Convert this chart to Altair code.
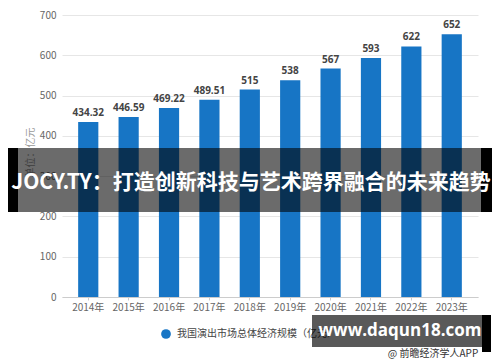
import altair as alt
import pandas as pd

years = ["2014年", "2015年", "2016年", "2017年", "2018年", "2019年", "2020年", "2021年", "2022年", "2023年"]
values = [434.32, 446.59, 469.22, 489.51, 515, 538, 567, 593, 622, 652]
value_labels = ["434.32", "446.59", "469.22", "489.51", "515", "538", "567", "593", "622", "652"]
y_ticks = [0, 100, 200, 300, 400, 500, 600, 700]
series_name = "我国演出市场总体经济规模（亿元）"
y_title = "单位：亿元"
banner_text = "JOCY.TY：打造创新科技与艺术跨界融合的未来趋势"
watermark_text = "www.daqun18.com"
source_text = "@ 前瞻经济学人APP"

BAR = "#1775c5"
CJK = "Noto Sans CJK SC"

df = pd.DataFrame({"year": years, "value": values, "label": value_labels})

base = alt.Chart(df).encode(
    x=alt.X(
        "year:N", sort=years, title=None,
        scale=alt.Scale(paddingInner=0.5, paddingOuter=0.4),
        axis=alt.Axis(labelAngle=0, labelFont=CJK, labelFontSize=10, labelColor="#666",
                      domainColor="#cccccc", tickColor="#cccccc", tickSize=3,
                      labelPadding=2, grid=False),
    ),
    y=alt.Y(
        "value:Q", scale=alt.Scale(domain=[0, 700]),
        axis=alt.Axis(values=y_ticks, title=y_title, titleFont=CJK, titleFontSize=10,
                      titleColor="#999", titleFontWeight="normal", titleAngle=-90,
                      titleX=-32, titleY=137, titleAlign="center", titleBaseline="middle",
                      domain=False, ticks=False, labelPadding=6, gridColor="#e6e6e6",
                      labelColor="#666", labelFont=CJK, labelFontSize=10),
    ),
)

bars = base.mark_bar(color=BAR)
labels = base.mark_text(dy=-4, baseline="bottom", font="Open Sans", fontWeight="bold",
                        fontSize=10, color="#444").encode(text="label:N")

leg_df = pd.DataFrame({"name": [series_name]})
legend_dot = alt.Chart(leg_df).mark_circle(size=95, color=BAR, opacity=1).encode(
    x=alt.value(104), y=alt.value(319))
legend_text = alt.Chart(leg_df).mark_text(align="left", baseline="middle", fontSize=10,
                                          color="#444", font=CJK).encode(
    x=alt.value(115), y=alt.value(319), text="name:N")

one = pd.DataFrame({"t": [banner_text], "w": [watermark_text], "s": [source_text]})
band = alt.Chart(one).mark_rect(color="black", opacity=0.58).encode(
    x=alt.value(-54), x2=alt.value(431), y=alt.value(133), y2=alt.value(197))
edge_l = alt.Chart(one).mark_rect(color="black").encode(
    x=alt.value(-54), x2=alt.value(-44), y=alt.value(133), y2=alt.value(197))
edge_r = alt.Chart(one).mark_rect(color="black").encode(
    x=alt.value(419), x2=alt.value(431), y=alt.value(133), y2=alt.value(197))
band_text = alt.Chart(one).mark_text(font=CJK, fontSize=21, fontWeight="bold", color="white",
                                     align="center", baseline="middle").encode(
    x=alt.value(189), y=alt.value(168), text="t:N")

wm_box = alt.Chart(one).mark_rect(color="black", opacity=0.65).encode(
    x=alt.value(250), x2=alt.value(420), y=alt.value(300), y2=alt.value(332))
wm_edge = alt.Chart(one).mark_rect(color="black").encode(
    x=alt.value(420), x2=alt.value(429), y=alt.value(300), y2=alt.value(337))
wm_text = alt.Chart(one).mark_text(font="Open Sans", fontSize=17, fontWeight="bold",
                                   color="white", align="center", baseline="middle").encode(
    x=alt.value(338), y=alt.value(316), text="w:N")
src = alt.Chart(one).mark_text(font=CJK, fontSize=10, color="#333", align="center",
                               baseline="middle").encode(
    x=alt.value(371), y=alt.value(339), text="s:N")

chart = alt.layer(
    bars, labels, legend_dot, legend_text, band, edge_l, edge_r, band_text,
    wm_box, wm_edge, wm_text, src
).properties(
    width=416, height=282,
    padding={"left": 54, "top": 7, "right": 14, "bottom": 66},
    autosize=alt.AutoSizeParams(type="none"),
    background="white",
).configure_view(stroke=None)

chart.save("out.html", embed_options={"renderer": "svg", "actions": False})
